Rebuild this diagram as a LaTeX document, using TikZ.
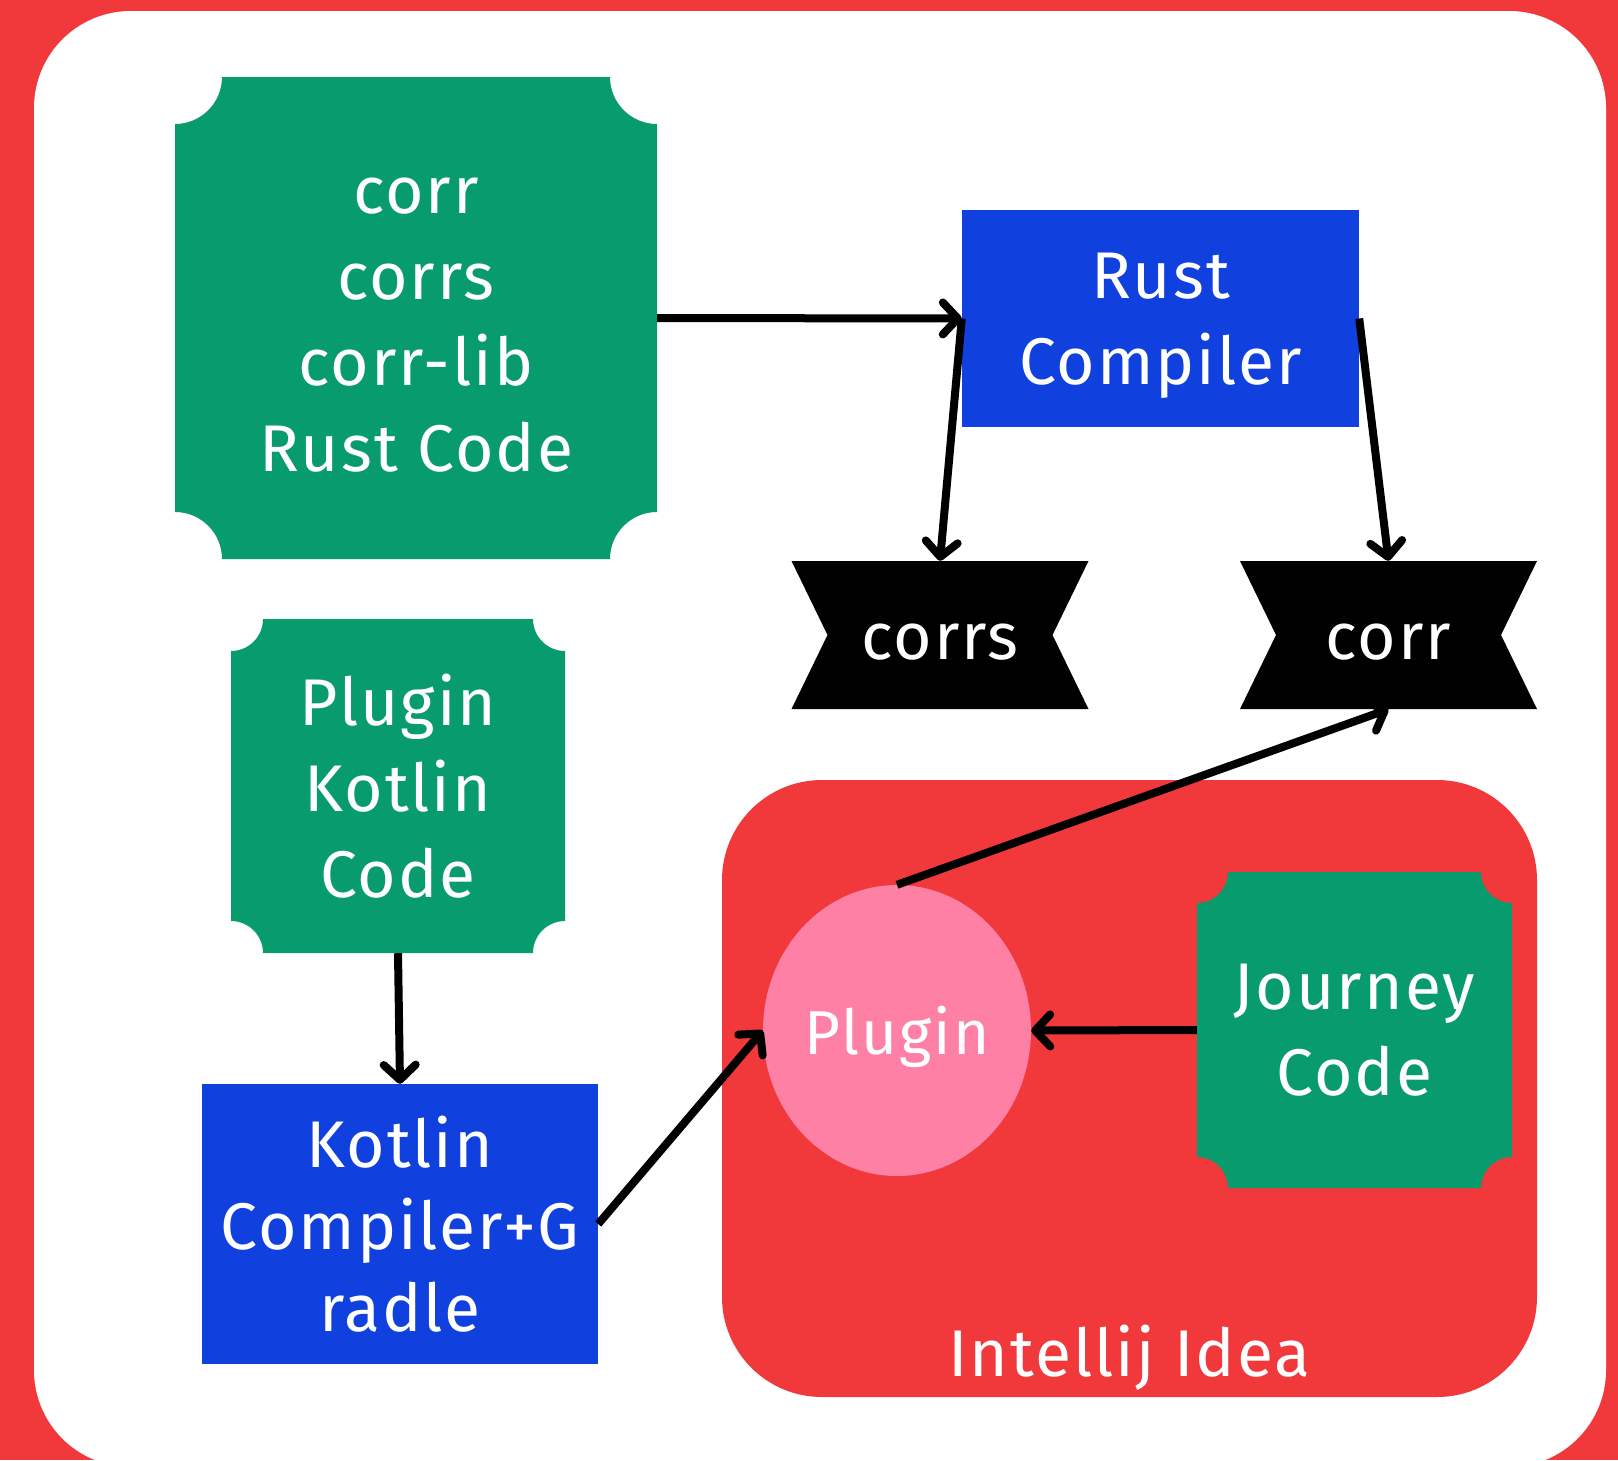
\documentclass[tikz,border=0pt]{standalone}
\usepackage{fontspec}
\setmainfont{Fira Sans}[LetterSpace=3]
\usetikzlibrary{arrows.meta,calc,shapes.geometric}
\definecolor{framered}{RGB}{241,56,59}
\definecolor{codegreen}{RGB}{8,155,110}
\definecolor{compblue}{RGB}{16,64,222}
\definecolor{pluginpink}{RGB}{255,128,165}
\newcommand{\capstrut}{\rule{0pt}{48pt}}
\tikzset{
  base/.style={font=\fontsize{66}{86}\selectfont, text=white, align=center, inner sep=0pt, text depth=0pt, execute at begin node={\capstrut}},
  codebox/.style={base, rectangle, path picture={
    \fill[codegreen] ($(path picture bounding box.north west)+(#1,0)$) -- ($(path picture bounding box.north east)+(-#1,0)$)
      arc[start angle=180,end angle=270,radius=#1] -- ($(path picture bounding box.south east)+(0,#1)$)
      arc[start angle=90,end angle=180,radius=#1] -- ($(path picture bounding box.south west)+(#1,0)$)
      arc[start angle=0,end angle=90,radius=#1] -- ($(path picture bounding box.north west)+(0,-#1)$)
      arc[start angle=270,end angle=360,radius=#1] -- cycle;}},
  codebox/.default=47pt,
  compbox/.style={base, rectangle, fill=compblue},
  ribbon/.style={base, rectangle, minimum width=297pt, minimum height=148pt, path picture={
    \fill[black] (path picture bounding box.north west) -- (path picture bounding box.north east)
      -- ($(path picture bounding box.east)+(-36pt,0)$) -- (path picture bounding box.south east)
      -- (path picture bounding box.south west) -- ($(path picture bounding box.west)+(36pt,0)$) -- cycle;}},
  ideabox/.style={rectangle, rounded corners=100pt, fill=framered, inner sep=0pt},
  arr/.style={-{Straight Barb[length=15pt,width=32pt,round]}, line width=8pt, draw=black},
}
\begin{document}
\begin{tikzpicture}[x=1pt,y=-1pt]
  \useasboundingbox (0,0) rectangle (1618,1460);
  \clip (0,0) rectangle (1618,1460);
  % frame
  \fill[framered] (0,0) rectangle (1618,1460);
  \fill[white, rounded corners=97pt] (34,11) rectangle (1606,1467);
  % IDE container
  \node[ideabox, minimum width=815pt, minimum height=617pt] (idea) at (1129.5,1088.5) {};
  \node[base, anchor=base] (idealbl) at (1129.5,1376) {Intellij Idea};
  % sources and compilers
  \node[codebox, minimum width=482pt, minimum height=482pt] (rustcode) at (416,318) {\capstrut corr\\corrs\\corr-lib\\Rust Code};
  \node[compbox, minimum width=397pt, minimum height=217pt] (rustc) at (1160.5,318.5) {Rust\\Compiler};
  \node[ribbon] (corrs) at (940,635) {corrs};
  \node[ribbon] (corr) at (1388.5,635) {corr};
  \node[codebox=32pt, minimum width=334pt, minimum height=334pt] (kotlincode) at (398,786) {Plugin\\Kotlin\\Code};
  \node[compbox, font=\fontsize{66}{82}\selectfont, minimum width=396pt, minimum height=280pt] (kotlinc) at (400,1224) {Kotlin\\Compiler+G\\radle};
  \node[base, ellipse, fill=pluginpink, font=\fontsize{62}{80}\selectfont, minimum width=268pt, minimum height=291pt] (plugin) at (897,1030.5) {Plugin};
  \node[codebox=31pt, minimum width=315pt, minimum height=316pt] (journey) at (1354.5,1030) {Journey\\Code};
  % connectors
  \draw[arr] (rustcode.east) -- (rustc.west);
  \draw[arr] (rustc.west) -- (corrs.north);
  \draw[arr] (rustc.east) -- (corr.north);
  \draw[arr] (kotlincode.south) -- (kotlinc.north);
  \draw[arr] (kotlinc.east) -- (plugin.west);
  \draw[arr] (journey.west) -- (plugin.east);
  \draw[arr] (plugin.north) -- (corr.south);
\end{tikzpicture}
\end{document}
